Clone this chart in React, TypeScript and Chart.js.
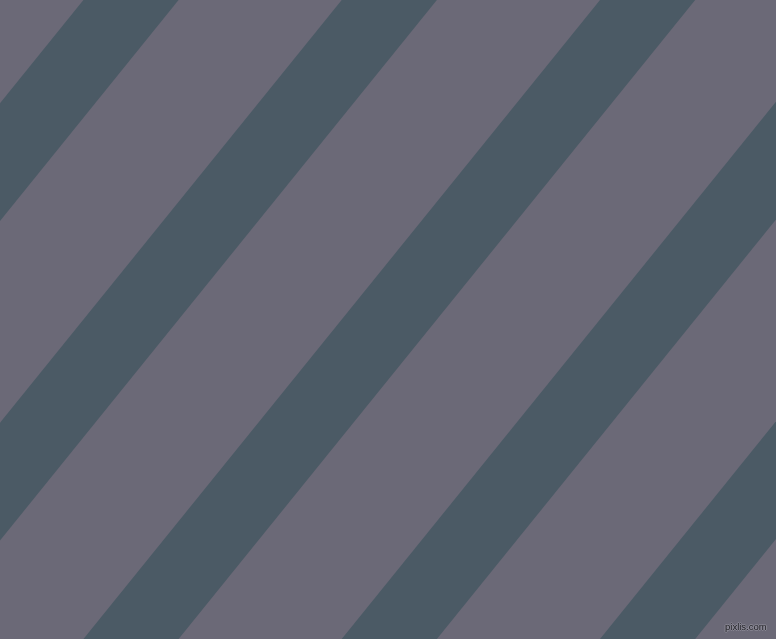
import React, { useEffect, useRef } from "react";
import { Chart, registerables } from "chart.js";

Chart.register(...registerables);

// Stripe centre lines (pixel units of the 776x639 frame)
const edgeY = [-60, 699];
const stripeStartX = [179.5, 437.8, 696.1, 954.4, 1212.7];
const stripeEndX = [-434.1, -175.8, 82.5, 340.8, 599.1];
const stripeNames = ["Stripe 1", "Stripe 2", "Stripe 3", "Stripe 4", "Stripe 5"];
const watermark = "pixlis.com";

const W = 776;
const H = 639;
const BG = "#6b6977";
const STRIPE = "#4b5a65";

export default function App() {
  const ref = useRef<HTMLCanvasElement | null>(null);

  useEffect(() => {
    document.body.style.margin = "0";
    const canvas = ref.current;
    if (!canvas) return;
    const chart = new Chart(canvas, {
      type: "line",
      data: {
        datasets: stripeNames.map((name, i) => ({
          label: name,
          data: [
            { x: stripeStartX[i], y: edgeY[0] },
            { x: stripeEndX[i], y: edgeY[1] },
          ],
          borderColor: STRIPE,
          backgroundColor: STRIPE,
          borderWidth: 74,
          borderCapStyle: "butt" as const,
          pointRadius: 0,
          fill: false,
          tension: 0,
        })),
      },
      options: {
        animation: false,
        responsive: false,
        maintainAspectRatio: false,
        layout: { padding: 0 },
        events: [],
        scales: {
          x: { type: "linear", min: 0, max: W, display: false },
          y: { type: "linear", min: 0, max: H, reverse: true, display: false },
        },
        plugins: {
          legend: { display: false },
          tooltip: { enabled: false },
          title: { display: false },
        },
      },
    });
    return () => chart.destroy();
  }, []);

  return (
    <div
      style={{
        position: "fixed",
        left: 0,
        top: 0,
        width: W,
        height: H,
        background: BG,
        overflow: "hidden",
      }}
    >
      <canvas ref={ref} width={W} height={H} style={{ display: "block", width: W, height: H }} />
      <span
        style={{
          position: "absolute",
          left: 725,
          top: 620,
          fontFamily: "'Liberation Sans', Arial, sans-serif",
          fontSize: 9.5,
          lineHeight: "13px",
          color: "#1f1f24",
          textShadow:
            "1px 0 0 #8e8c98, -1px 0 0 #8e8c98, 0 1px 0 #8e8c98, 0 -1px 0 #8e8c98",
          whiteSpace: "nowrap",
        }}
      >
        {watermark}
      </span>
    </div>
  );
}
